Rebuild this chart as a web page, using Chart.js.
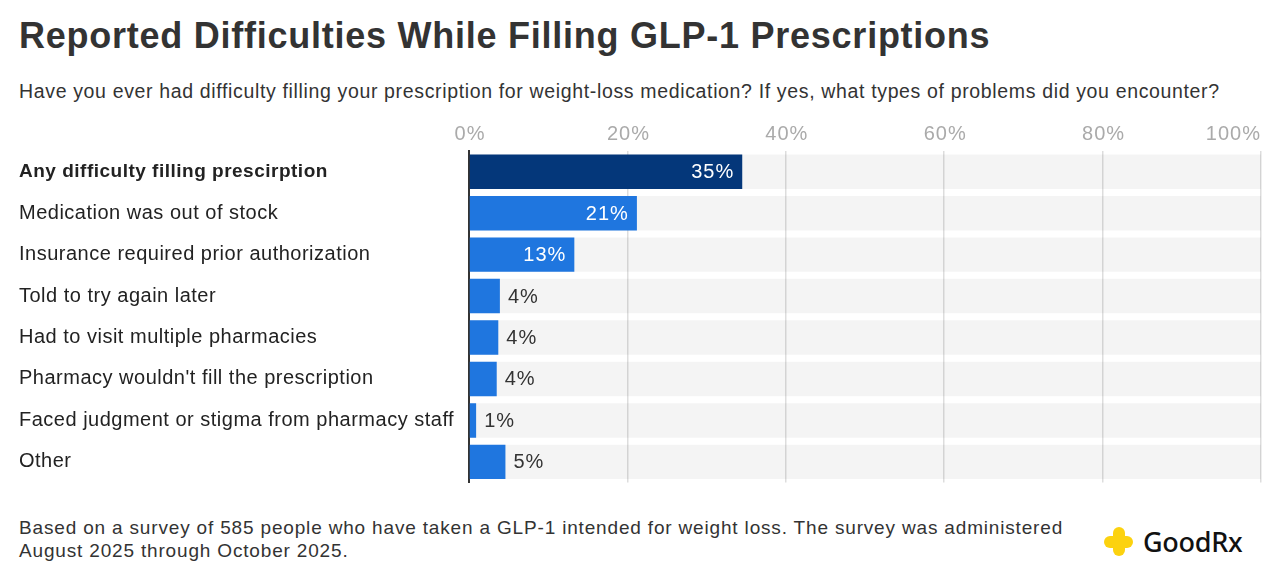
<!DOCTYPE html>
<html>
<head>
<meta charset="utf-8">
<script src="https://cdn.jsdelivr.net/npm/chart.js@4.4.1/dist/chart.umd.min.js"></script>
<style>
  html, body { margin: 0; padding: 0; background: #fff; }
  body { width: 1280px; height: 583px; position: relative; overflow: hidden;
         font-family: "Liberation Sans", Arial, sans-serif; color: #333; }
  #title { position: absolute; left: 19px; top: 15px; font-size: 36px; letter-spacing: 0.75px; font-weight: bold; color: #333; white-space: nowrap; }
  #subtitle { position: absolute; left: 19px; top: 80px; font-size: 19.5px; letter-spacing: 0.65px; color: #333; white-space: nowrap; }
  #wrap { position: absolute; left: 0; top: 110px; width: 1280px; height: 387px; }
  #note { position: absolute; left: 19px; top: 516px; font-size: 19px; letter-spacing: 0.83px; line-height: 23px; color: #333; white-space: nowrap; }
  #logo { position: absolute; left: 1104px; top: 527px; width: 150px; height: 30px; }
  .plus-h { position: absolute; left: 0; top: 9px; width: 29px; height: 12px; background: #fcd20f; border-radius: 6px; }
  .plus-v { position: absolute; left: 9px; top: 0; width: 12px; height: 29px; background: #fcd20f; border-radius: 6px; }
  #logo span { position: absolute; left: 39px; top: -4px; font-family: "Noto Sans", sans-serif; font-size: 27px; font-weight: 500; color: #111; letter-spacing: -0.3px; }
</style>
</head>
<body>
<div id="title">Reported Difficulties While Filling GLP-1 Prescriptions</div>
<div id="subtitle">Have you ever had difficulty filling your prescription for weight-loss medication? If yes, what types of problems did you encounter?</div>
<div id="wrap"><canvas id="chart"></canvas></div>
<div id="note">Based on a survey of 585 people who have taken a GLP-1 intended for weight loss. The survey was administered<br>August 2025 through October 2025.</div>
<div id="logo"><div class="plus-h"></div><div class="plus-v"></div><span>GoodRx</span></div>

<script>
// kategoriat ja arvot (prosentteina)
const categories = [
  'Any difficulty filling prescirption',
  'Medication was out of stock',
  'Insurance required prior authorization',
  'Told to try again later',
  'Had to visit multiple pharmacies',
  "Pharmacy wouldn't fill the prescription",
  'Faced judgment or stigma from pharmacy staff',
  'Other'
];
const shares = [34.5, 21.2, 13.3, 3.9, 3.7, 3.5, 0.9, 4.6];
const fullRow = [100, 100, 100, 100, 100, 100, 100, 100];
const tickValues = [0, 20, 40, 60, 80, 100];

const barColors = shares.map((_, i) => i === 0 ? '#04377a' : '#1f76df');

// kirjainväli tekstille, jotta se vastaa alkuperäistä
const spacingPlugin = {
  id: 'spacing',
  beforeDraw(chart) { chart.ctx.letterSpacing = '0.5px'; }
};

// piirretään prosenttiluvut palkkien päälle ja x-akselin tekstit
const labelPlugin = {
  id: 'labels',
  afterDatasetsDraw(chart) {
    const ctx = chart.ctx;
    const meta = chart.getDatasetMeta(1);
    ctx.save();
    ctx.letterSpacing = '1px';
    ctx.font = '20px "Liberation Sans", Arial, sans-serif';
    ctx.textBaseline = 'middle';
    meta.data.forEach((bar, i) => {
      const txt = Math.round(shares[i]) + '%';
      if (shares[i] > 10) {
        ctx.fillStyle = '#fff';
        ctx.textAlign = 'right';
        ctx.fillText(txt, bar.x - 8, bar.y + 1);
      } else {
        ctx.fillStyle = '#333';
        ctx.textAlign = 'left';
        ctx.fillText(txt, bar.x + 8, bar.y + 1);
      }
    });
    // x-akselin tekstit
    const xs = chart.scales.x;
    ctx.fillStyle = '#aaa';
    tickValues.forEach((v, i) => {
      const px = xs.getPixelForValue(v);
      const last = i === tickValues.length - 1;
      ctx.textAlign = last ? 'right' : 'center';
      ctx.fillText(v + '%', last ? px : px + 1, 24);
    });
    ctx.restore();
  }
};

new Chart(document.getElementById('chart'), {
  type: 'bar',
  data: {
    labels: categories,
    datasets: [
      {
        data: fullRow,
        backgroundColor: 'rgba(0,0,0,0.045)',
        grouped: false,
        order: 2,
        barPercentage: 0.83,
        categoryPercentage: 1
      },
      {
        data: shares,
        backgroundColor: barColors,
        grouped: false,
        order: 1,
        barPercentage: 0.83,
        categoryPercentage: 1
      }
    ]
  },
  options: {
    indexAxis: 'y',
    responsive: true,
    maintainAspectRatio: false,
    animation: false,
    layout: { padding: { left: 19, right: 19, top: 41, bottom: 7 } },
    plugins: { legend: { display: false }, tooltip: { enabled: false } },
    scales: {
      x: {
        position: 'top',
        min: 0,
        max: 100,
        ticks: { display: false, stepSize: 20 },
        grid: { color: '#ddd', lineWidth: 1.5, drawTicks: false },
        border: { display: false }
      },
      y: {
        ticks: {
          crossAlign: 'far',
          color: '#222',
          font: (c) => ({
            family: '"Liberation Sans", Arial, sans-serif',
            size: c.index === 0 ? 19 : 20,
            weight: c.index === 0 ? 'bold' : 'normal'
          })
        },
        grid: { display: false },
        border: { display: true, color: '#333', width: 2 },
        afterFit(scale) { scale.width = 450; }
      }
    }
  },
  plugins: [spacingPlugin, labelPlugin]
});
</script>
</body>
</html>
